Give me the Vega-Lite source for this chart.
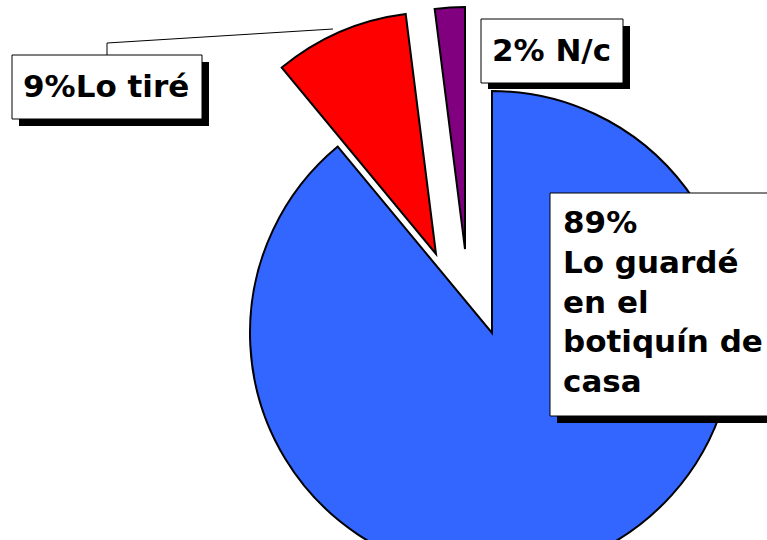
{
  "$schema": "https://vega.github.io/schema/vega-lite/v6.json",
  "width": 767,
  "height": 540,
  "padding": 0,
  "autosize": {"type": "none"},
  "background": "white",
  "config": {"view": {"stroke": null}},
  "datasets": {
    "slices": [
      {"category": "Lo guardé en el botiquín de casa", "pct": 89, "order": 1, "label": "89%\nLo guardé\nen el\nbotiquín de\ncasa"},
      {"category": "Lo tiré", "pct": 9, "order": 2, "label": "9%Lo tiré"},
      {"category": "N/c", "pct": 2, "order": 3, "label": "2% N/c"}
    ]
  },
  "data": {"name": "slices"},
  "transform": [
    {"stack": "pct", "groupby": [], "sort": [{"field": "order"}], "as": ["t0", "t1"]}
  ],
  "layer": [
    {
      "transform": [{"filter": "datum.order == 1"}],
      "mark": {"type": "arc", "outerRadius": 242, "stroke": "black", "strokeWidth": 2},
      "encoding": {
        "theta": {"field": "t0", "type": "quantitative", "scale": {"domain": [0, 100]}},
        "theta2": {"field": "t1"},
        "color": {"field": "category", "type": "nominal", "scale": {"domain": ["Lo guardé en el botiquín de casa", "Lo tiré", "N/c"], "range": ["#3366FF", "#FF0000", "#800080"]}, "legend": null},
        "x": {"datum": 492, "type": "quantitative", "scale": {"domain": [0, 767], "nice": false, "zero": false}, "axis": null},
        "y": {"datum": 333, "type": "quantitative", "scale": {"domain": [0, 540], "reverse": true, "nice": false, "zero": false}, "axis": null}
      }
    },
    {
      "transform": [{"filter": "datum.order == 2"}],
      "mark": {"type": "arc", "outerRadius": 242, "stroke": "black", "strokeWidth": 2},
      "encoding": {
        "theta": {"field": "t0", "type": "quantitative", "scale": {"domain": [0, 100]}},
        "theta2": {"field": "t1"},
        "color": {"field": "category", "type": "nominal", "legend": null},
        "x": {"datum": 436, "type": "quantitative"},
        "y": {"datum": 254, "type": "quantitative"}
      }
    },
    {
      "transform": [{"filter": "datum.order == 3"}],
      "mark": {"type": "arc", "outerRadius": 242, "stroke": "black", "strokeWidth": 2},
      "encoding": {
        "theta": {"field": "t0", "type": "quantitative", "scale": {"domain": [0, 100]}},
        "theta2": {"field": "t1"},
        "color": {"field": "category", "type": "nominal", "legend": null},
        "x": {"datum": 465, "type": "quantitative"},
        "y": {"datum": 249, "type": "quantitative"}
      }
    },
    {
      "transform": [{"filter": "datum.order == 2"}],
      "mark": {"type": "rule", "color": "black", "strokeWidth": 1},
      "encoding": {
        "x": {"datum": 107, "type": "quantitative"},
        "y": {"datum": 55, "type": "quantitative"},
        "x2": {"datum": 107},
        "y2": {"datum": 43}
      }
    },
    {
      "transform": [{"filter": "datum.order == 2"}],
      "mark": {"type": "rule", "color": "black", "strokeWidth": 1},
      "encoding": {
        "x": {"datum": 107, "type": "quantitative"},
        "y": {"datum": 43, "type": "quantitative"},
        "x2": {"datum": 333},
        "y2": {"datum": 29}
      }
    },
    {
      "transform": [{"filter": "datum.order == 1"}],
      "mark": {"type": "rect", "fill": "black"},
      "encoding": {
        "x": {"datum": 557, "type": "quantitative"},
        "x2": {"datum": 790},
        "y": {"datum": 200, "type": "quantitative"},
        "y2": {"datum": 423}
      }
    },
    {
      "transform": [{"filter": "datum.order == 1"}],
      "mark": {"type": "rect", "fill": "white", "stroke": "black", "strokeWidth": 1},
      "encoding": {
        "x": {"datum": 550, "type": "quantitative"},
        "x2": {"datum": 785},
        "y": {"datum": 193, "type": "quantitative"},
        "y2": {"datum": 416}
      }
    },
    {
      "transform": [{"filter": "datum.order == 3"}],
      "mark": {"type": "rect", "fill": "black"},
      "encoding": {
        "x": {"datum": 488, "type": "quantitative"},
        "x2": {"datum": 630},
        "y": {"datum": 26, "type": "quantitative"},
        "y2": {"datum": 89}
      }
    },
    {
      "transform": [{"filter": "datum.order == 3"}],
      "mark": {"type": "rect", "fill": "white", "stroke": "black", "strokeWidth": 1},
      "encoding": {
        "x": {"datum": 481, "type": "quantitative"},
        "x2": {"datum": 623},
        "y": {"datum": 19, "type": "quantitative"},
        "y2": {"datum": 83}
      }
    },
    {
      "transform": [{"filter": "datum.order == 2"}],
      "mark": {"type": "rect", "fill": "black"},
      "encoding": {
        "x": {"datum": 19, "type": "quantitative"},
        "x2": {"datum": 209},
        "y": {"datum": 62, "type": "quantitative"},
        "y2": {"datum": 126}
      }
    },
    {
      "transform": [{"filter": "datum.order == 2"}],
      "mark": {"type": "rect", "fill": "white", "stroke": "black", "strokeWidth": 1},
      "encoding": {
        "x": {"datum": 12, "type": "quantitative"},
        "x2": {"datum": 202},
        "y": {"datum": 55, "type": "quantitative"},
        "y2": {"datum": 119}
      }
    },
    {
      "transform": [{"filter": "datum.order == 1"}],
      "mark": {"type": "text", "font": "DejaVu Sans", "fontWeight": "bold", "fontSize": 31, "align": "left", "baseline": "alphabetic", "lineBreak": "\n", "lineHeight": 39.75, "color": "black"},
      "encoding": {
        "text": {"field": "label"},
        "x": {"datum": 563, "type": "quantitative"},
        "y": {"datum": 233, "type": "quantitative"}
      }
    },
    {
      "transform": [{"filter": "datum.order == 2"}],
      "mark": {"type": "text", "font": "DejaVu Sans", "fontWeight": "bold", "fontSize": 31, "align": "left", "baseline": "alphabetic", "color": "black"},
      "encoding": {
        "text": {"field": "label"},
        "x": {"datum": 23, "type": "quantitative"},
        "y": {"datum": 97, "type": "quantitative"}
      }
    },
    {
      "transform": [{"filter": "datum.order == 3"}],
      "mark": {"type": "text", "font": "DejaVu Sans", "fontWeight": "bold", "fontSize": 31, "align": "left", "baseline": "alphabetic", "color": "black"},
      "encoding": {
        "text": {"field": "label"},
        "x": {"datum": 492, "type": "quantitative"},
        "y": {"datum": 61, "type": "quantitative"}
      }
    }
  ]
}
